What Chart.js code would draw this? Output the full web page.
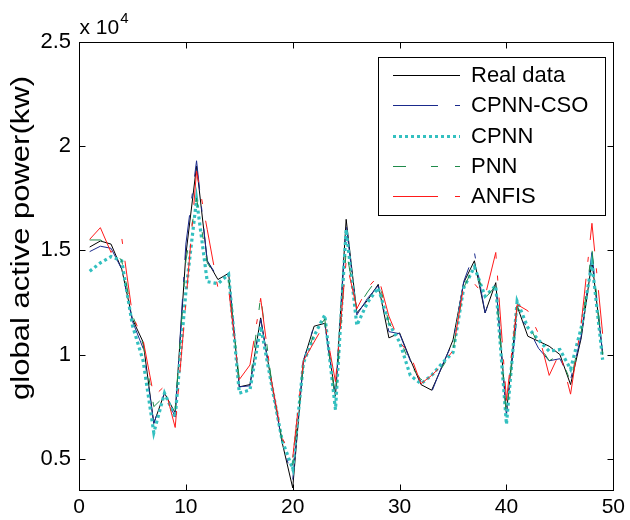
<!DOCTYPE html>
<html><head><meta charset="utf-8">
<script src="https://cdn.jsdelivr.net/npm/chart.js@4.4.1/dist/chart.umd.min.js"></script>
<style>html,body{margin:0;padding:0;background:#fff;}#wrap{width:630px;height:520px;position:relative;}</style>
</head><body><div id="wrap"><canvas id="c" width="630" height="520"></canvas></div>
<script>
const xValues = [1,2,3,4,5,6,7,8,9,10,11,12,13,14,15,16,17,18,19,20,21,22,23,24,25,26,27,28,29,30,31,32,33,34,35,36,37,38,39,40,41,42,43,44,45,46,47,48,49];
const seriesNames = ['Real data','CPNN-CSO','CPNN','PNN','ANFIS'];
const realData = [15160,15450,15300,14100,11700,10600,6700,8150,7200,14800,19050,14500,13600,13900,8450,8560,11760,8700,5800,3600,9700,11360,11500,8000,16490,12000,12600,13370,10800,11040,9760,8560,8290,9440,10700,13450,14500,12000,13450,7200,12320,10880,10640,10400,10000,8560,10800,14490,10080];
const cpnnCso = [14940,15200,15100,14100,11600,10300,6700,8150,7000,15300,19300,14500,13700,13900,8450,8500,11700,8700,5800,4000,9700,11400,11500,7900,16250,11900,12700,13300,11100,11000,9700,8700,8200,9500,10600,13500,14900,12000,13500,7100,11900,11300,10300,9700,9800,8800,10900,14900,10000];
const cpnn = [14000,14400,14700,14500,11400,9700,6250,8150,7000,13000,17450,13500,13400,13850,8150,8300,11350,8600,5900,4500,9600,10900,11900,7350,16000,11400,12500,13200,11500,10600,9000,8600,9000,9600,10100,13200,14200,12800,13300,6650,12560,11300,10700,10160,10240,9300,11300,14400,9750];
const pnn = [15500,15500,15200,14500,11900,10500,7500,8000,7300,14500,17500,14400,13600,13600,8800,8600,12800,8800,5900,4700,9500,11000,11700,7800,15000,12200,13000,13700,11500,10800,9500,8800,8800,9400,10200,13200,14300,12700,13300,7000,12300,11500,10500,9700,10000,8700,11100,15050,10000];
const anfis = [15530,16090,14900,15600,11900,10700,8000,8480,6500,12500,18800,16000,13200,13160,8800,9500,12700,8800,6000,5050,9700,10600,11500,8700,14500,12200,13200,13760,11840,10600,10000,8600,9000,9500,10200,13300,13400,12800,14900,7800,12400,12100,11000,9000,10100,8100,11500,16300,11000];
const xTickValues = [0,10,20,30,40,50];
const yTickValues = [5000,10000,15000,20000,25000];
const yAxisLabel = 'global active power(kw)';
const exponentBase = 'x 10';
const exponentPower = '4';

const FONT = '"Liberation Sans", Arial, sans-serif';
const allSeries = [realData, cpnnCso, cpnn, pnn, anfis];
const styles = [
  {color:'#000000', width:1, dash:[]},
  {color:'#1a2a8c', width:1, dash:[45,17,5,17]},
  {color:'#33c0c0', width:3.2, dash:[3,3]},
  {color:'#1f8a4a', width:1, dash:[13,25,7,17]},
  {color:'#ff1a1a', width:1, dash:[45,17,5,17]}
];

const datasets = allSeries.map((arr, i) => ({
  label: seriesNames[i],
  data: xValues.map((x, j) => ({x: x, y: arr[j]})),
  borderColor: styles[i].color,
  borderWidth: styles[i].width,
  borderDash: styles[i].dash,
  borderCapStyle: 'butt',
  pointRadius: 0,
  fill: false,
  tension: 0,
  order: allSeries.length - 1 - i
}));

const framePlugin = {
  id: 'frame',
  afterDraw(chart) {
    const {ctx, chartArea: a, scales: {x, y}} = chart;
    ctx.save();
    ctx.strokeStyle = '#000'; ctx.lineWidth = 1; ctx.setLineDash([]);
    const L = Math.round(a.left) + 0.5, R = Math.round(a.right) + 0.5, T = Math.round(a.top) + 0.5, B = Math.round(a.bottom) + 0.5;
    ctx.strokeRect(L, T, R - L, B - T);
    const tl = 6;
    ctx.beginPath();
    xTickValues.forEach(v => {
      const px = Math.round(x.getPixelForValue(v)) + 0.5;
      ctx.moveTo(px, B); ctx.lineTo(px, B - tl);
      ctx.moveTo(px, T); ctx.lineTo(px, T + tl);
    });
    yTickValues.forEach(v => {
      const py = Math.round(y.getPixelForValue(v)) + 0.5;
      ctx.moveTo(L, py); ctx.lineTo(L + tl, py);
      ctx.moveTo(R, py); ctx.lineTo(R - tl, py);
    });
    ctx.stroke();

    ctx.fillStyle = '#000';
    ctx.textBaseline = 'alphabetic';
    ctx.textAlign = 'left';
    ctx.font = '21px ' + FONT;
    ctx.fillText(exponentBase, L, 34);
    const w = ctx.measureText(exponentBase).width;
    ctx.font = '15px ' + FONT;
    ctx.fillText(exponentPower, L + w + 1, 23);

    ctx.save();
    ctx.translate(22, 238);
    ctx.rotate(-Math.PI / 2);
    ctx.scale(1, 0.82);
    ctx.font = '31px ' + FONT;
    ctx.textAlign = 'center';
    ctx.textBaseline = 'middle';
    ctx.fillText(yAxisLabel, 0, 0);
    ctx.restore();

    const bx = 378.5, by = 57.5, bw = 227, bh = 158;
    ctx.fillStyle = '#fff';
    ctx.fillRect(bx, by, bw, bh);
    ctx.strokeStyle = '#000'; ctx.lineWidth = 1;
    ctx.strokeRect(bx, by, bw, bh);
    const rows = [75, 105, 136, 165.5, 195.5];
    ctx.font = '22px ' + FONT;
    ctx.textAlign = 'left';
    ctx.textBaseline = 'middle';
    datasets.forEach((d, i) => {
      const yy = Math.round(rows[i]) + 0.5;
      ctx.save();
      ctx.strokeStyle = d.borderColor;
      ctx.lineWidth = d.borderWidth;
      ctx.setLineDash(d.borderDash);
      ctx.lineCap = 'butt';
      ctx.beginPath();
      ctx.moveTo(393, yy); ctx.lineTo(460, yy);
      ctx.stroke();
      ctx.restore();
      ctx.fillStyle = '#000';
      ctx.fillText(d.label, 471, rows[i] + 1);
    });
    ctx.restore();
  }
};

new Chart(document.getElementById('c'), {
  type: 'line',
  data: {datasets: datasets},
  options: {
    responsive: false,
    animation: false,
    devicePixelRatio: 1,
    layout: {padding: {top: 42, right: 11, left: 0, bottom: 0}},
    plugins: {legend: {display: false}, tooltip: {enabled: false}},
    scales: {
      x: {
        type: 'linear', min: 0, max: 50,
        afterBuildTicks: s => { s.ticks = xTickValues.map(v => ({value: v})); },
        afterFit: s => { s.height = 30; },
        grid: {display: false, drawTicks: false},
        border: {display: false},
        ticks: {font: {family: FONT, size: 21}, color: '#000', padding: 5, maxRotation: 0, autoSkip: false}
      },
      y: {
        type: 'linear', min: 3500, max: 25000,
        afterBuildTicks: s => { s.ticks = yTickValues.map(v => ({value: v})); },
        afterFit: s => { s.width = 79; },
        grid: {display: false, drawTicks: false},
        border: {display: false},
        ticks: {font: {family: FONT, size: 22}, color: '#000', padding: 8, autoSkip: false,
          callback: v => String(v / 10000)}
      }
    }
  },
  plugins: [framePlugin]
});
</script></body></html>
